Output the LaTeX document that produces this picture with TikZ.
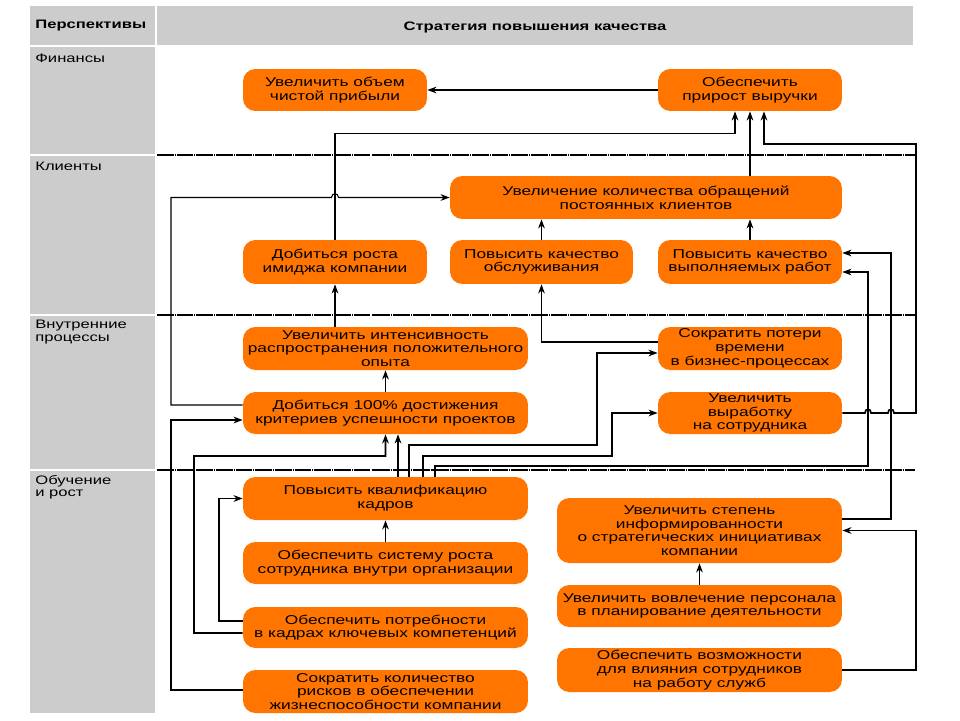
\documentclass[tikz,border=0pt]{standalone}
\usepackage{fontspec}
\setmainfont[FakeStretch=1.35]{Liberation Sans}
\usetikzlibrary{arrows.meta,calc}
\definecolor{boxorange}{RGB}{255,117,0}
\definecolor{panelgrey}{RGB}{204,204,204}
\begin{document}
\begin{tikzpicture}[x=0.02cm,y=-0.02cm,
  goal/.style={draw=none,fill=boxorange,rounded corners=7pt,inner sep=0pt,align=center,
    font=\fontsize{7.3}{7.8}\selectfont},
  lab/.style={inner sep=0pt,align=left,font=\fontsize{7}{6.9}\selectfont},
  hdr/.style={inner sep=0pt,font=\fontsize{7}{8}\selectfont\bfseries},
  ln/.style={line width=0.6pt},
  hv/.style={line width=0.95pt},
  tip/.style={-{Stealth[length=5.2pt,width=3.8pt]}},
  sep/.style={line width=0.6pt,dash pattern=on 9.5pt off 0.6pt on 0.5pt off 0.6pt}
]
\useasboundingbox (0,0) rectangle (960,720);
% panels
\fill[panelgrey] (30,6) rectangle (155,45);
\fill[panelgrey] (157,6) rectangle (913,45);
\fill[panelgrey] (30,47) rectangle (155,713);
\foreach \yy in {155,315,470} {
  \draw[white,line width=0.6pt] (30,\yy) -- (155,\yy);
  \draw[sep] (157,\yy) -- (915,\yy);
}
% header and row labels
\node[hdr,anchor=west] (hPersp) at (35,26) {Перспективы};
\node[hdr] (hStrat) at (535,27) {Стратегия повышения качества};
\node[lab,anchor=west] (lFin) at (35,58) {Финансы};
\node[lab,anchor=west] (lCli) at (35,166) {Клиенты};
\node[lab,anchor=west] (lInt) at (35,332) {Внутренние\\процессы};
\node[lab,anchor=west] (lLrn) at (35,487) {Обучение\\и рост};
% goals
\node[goal,minimum width=3.68cm,minimum height=0.84cm] (b1) at (335,90) {Увеличить объем\\чистой прибыли};
\node[goal,minimum width=3.68cm,minimum height=0.84cm] (b2) at (750,90) {Обеспечить\\прирост выручки};
\node[goal,minimum width=7.84cm,minimum height=0.86cm] (b3) at (646,197.5) {Увеличение количества обращений\\постоянных клиентов};
\node[goal,minimum width=3.68cm,minimum height=0.88cm] (b4) at (335,262) {Добиться роста\\имиджа компании};
\node[goal,minimum width=3.66cm,minimum height=0.88cm] (b5) at (541.5,262) {Повысить качество\\обслуживания};
\node[goal,minimum width=3.68cm,minimum height=0.88cm] (b6) at (750,262) {Повысить качество\\выполняемых работ};
\node[goal,minimum width=5.7cm,minimum height=0.86cm] (b7) at (385.5,348.5) {Увеличить интенсивность\\распространения положительного\\опыта};
\node[goal,minimum width=5.7cm,minimum height=0.84cm] (b8) at (385.5,413) {Добиться 100\% достижения\\критериев успешности проектов};
\node[goal,minimum width=3.68cm,minimum height=0.86cm] (b9) at (750,348.5) {Сократить потери\\времени\\в бизнес-процессах};
\node[goal,minimum width=3.68cm,minimum height=0.84cm] (b10) at (750,413) {Увеличить\\выработку\\на сотрудника};
\node[goal,minimum width=5.7cm,minimum height=0.86cm] (b11) at (385.5,498.5) {Повысить квалификацию\\кадров};
\node[goal,minimum width=5.7cm,minimum height=0.84cm] (b12) at (385.5,563) {Обеспечить систему роста\\сотрудника внутри организации};
\node[goal,minimum width=5.7cm,minimum height=0.82cm] (b13) at (385.5,627.5) {Обеспечить потребности\\в кадрах ключевых компетенций};
\node[goal,minimum width=5.7cm,minimum height=0.86cm] (b14) at (385.5,691.5) {Сократить количество\\рисков в обеспечении\\жизнеспособности компании};
\node[goal,minimum width=5.7cm,minimum height=1.3cm] (b15) at (699.5,530.5) {Увеличить степень\\информированности\\о стратегических инициативах\\компании};
\node[goal,minimum width=5.7cm,minimum height=0.84cm] (b16) at (699.5,606) {Увеличить вовлечение персонала\\в планирование деятельности};
\node[goal,minimum width=5.7cm,minimum height=0.88cm] (b17) at (699.5,670) {Обеспечить возможности\\для влияния сотрудников\\на работу служб};
% connectors
\draw[hv,tip] (b2.west) -- (b1.east);
\draw[hv,tip] (b4.north) |- ($(b2.south)+(-15,22)$) -- ($(b2.south)+(-15,0)$);
\draw[hv,tip] (b3.north -| b2.south) -- (b2.south);
\draw[hv,tip] (b10.east) -- (865,413) .. controls (865,408) and (871,408) .. (871,413)
  -- (888,413) .. controls (888,408) and (894,408) .. (894,413)
  -- (916,413) -- (916,144) -| ($(b2.south)+(14,0)$);
\draw[ln,tip] ($(b8.west)+(0,-8)$) -- (171,405) -- (171,197.5) -- (331.5,197.5)
  .. controls (331.5,192.5) and (338.5,192.5) .. (338.5,197.5) -- (b3.west);
\draw[ln,tip] ($(b9.west)+(0,-6.5)$) -| (b5.south);
\draw[ln,tip] (b5.north) -- (b3.south -| b5.north);
\draw[ln,tip] (b6.north) -- (b3.south -| b6.north);
\draw[ln,tip] (b7.north -| b4.south) -- (b4.south);
\draw[ln,tip] (b8.north) -- (b7.south);
\draw[ln,tip] ($(b11.north)+(12.5,0)$) -- ($(b8.south)+(12.5,0)$);
\draw[ln,tip] (b12.north) -- (b11.south);
\draw[hv,tip] ($(b13.west)+(0,5.5)$) -- (194,633) -- (194,456) -| (b8.south);
\draw[hv,tip] ($(b13.west)+(0,-6.5)$) -- (219,621) |- (b11.west);
\draw[hv,tip] ($(b14.west)+(0,-1.5)$) -- (171,690) |- ($(b8.west)+(0,7)$);
\draw[hv,tip] ($(b11.north)+(23.5,0)$) |- (597,445) |- ($(b9.west)+(0,4.5)$);
\draw[ln,tip] ($(b11.north)+(37.5,0)$) |- (612,456) |- (b10.west);
\draw[ln,tip] ($(b11.north)+(49.5,0)$) |- (868,466) |- ($(b6.east)+(0,10)$);
\draw[ln,tip] ($(b15.east)+(0,-11.5)$) -- (891,519) |- ($(b6.east)+(0,-9)$);
\draw[hv,tip] (b17.east) -- (916,670) |- (b15.east);
\draw[ln,tip] (b16.north) -- (b15.south);
\end{tikzpicture}
\end{document}
